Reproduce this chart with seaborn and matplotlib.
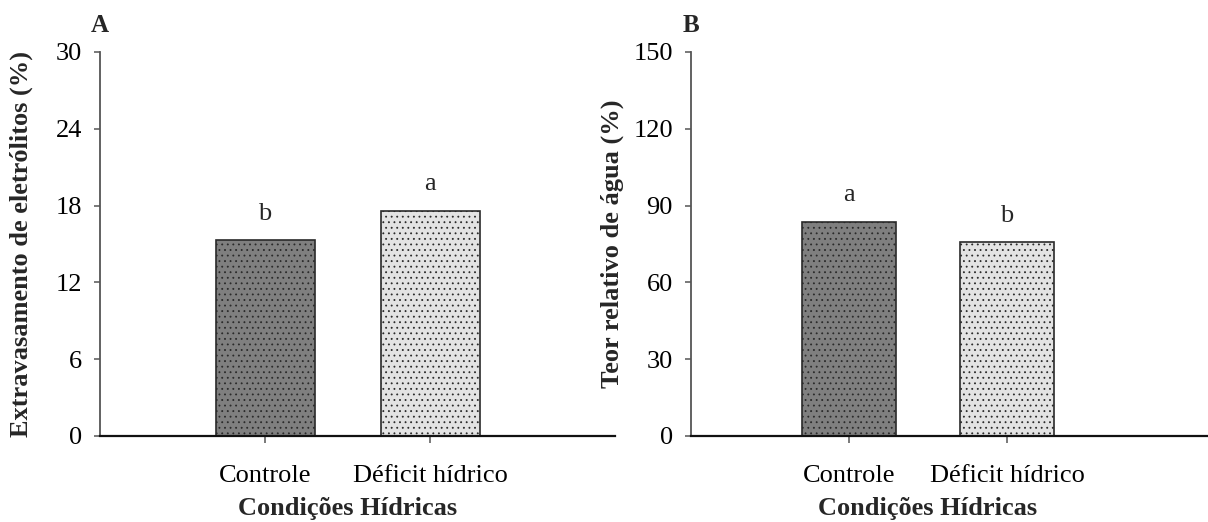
import matplotlib
matplotlib.use("Agg")
import matplotlib.pyplot as plt
import seaborn as sns
import pandas as pd

# ---- data ----
categories = ["Controle", "Déficit hídrico"]
el_values = [15.3, 17.6]          # Extravasamento de eletrólitos (%)
tra_values = [83.7, 75.8]         # Teor relativo de água (%)
el_letters = ["b", "a"]
tra_letters = ["a", "b"]
el_ticks = [0, 6, 12, 18, 24, 30]
tra_ticks = [0, 30, 60, 90, 120, 150]
bar_colors = ["#7f7f7f", "#e3e3e3"]

sns.set_theme(style="ticks")
plt.rcParams["font.family"] = ["Liberation Serif", "DejaVu Serif"]
plt.rcParams["hatch.linewidth"] = 0.6

fig = plt.figure(figsize=(12.08, 5.22), dpi=100)
W, H = 1208, 522
FS = 19

def panel(left_px, xlim, spacing, values, letters, ticks, ylabel, tag, ylab_px):
    x0, x1 = xlim
    width_px = (x1 - x0) * spacing
    ax = fig.add_axes([left_px / W, 1 - 436 / H, width_px / W, 384 / H])
    df = pd.DataFrame({"cond": categories, "val": values})
    sns.barplot(data=df, x="cond", y="val", hue="cond", palette=bar_colors,
                width=0.6, edgecolor="#2a2a2a", linewidth=1.2, ax=ax,
                legend=False, saturation=1)
    for p in ax.patches:
        p.set_hatch("...")
    ax.set_xlim(x0, x1)
    ax.set_ylim(ticks[0], ticks[-1])
    ax.set_yticks(ticks)
    ax.set_yticklabels([str(t) for t in ticks])
    for spine in ["top", "right"]:
        ax.spines[spine].set_visible(False)
    ax.spines["left"].set_color("#555555")
    ax.spines["left"].set_linewidth(1.3)
    ax.spines["bottom"].set_color("#111111")
    ax.spines["bottom"].set_linewidth(1.6)
    ax.tick_params(axis="y", length=4, width=1.1, color="#555555", pad=9,
                   labelsize=FS, labelcolor="black")
    ax.tick_params(axis="x", length=5, width=1.1, color="#555555", pad=16,
                   labelsize=FS, labelcolor="black")
    for i, (v, l) in enumerate(zip(values, letters)):
        ax.annotate(l, (i, v), xytext=(0, 11), textcoords="offset points",
                    ha="center", va="bottom", fontsize=FS)
    ax.set_xlabel("Condições Hídricas", fontsize=FS, fontweight="bold")
    ax.xaxis.set_label_coords((0.5 - x0) / (x1 - x0), -0.158)
    ax.set_ylabel(ylabel, fontsize=FS, fontweight="bold")
    ax.yaxis.set_label_coords((ylab_px - left_px) / width_px, 0.5)
    ax.text(0.0, 1.07, tag, transform=ax.transAxes, ha="center",
            va="center", fontsize=18, fontweight="bold")
    return ax

panel(100, (-1.0, 2.12), 165, el_values, el_letters, el_ticks,
      "Extravasamento de eletrólitos (%)", "A", 33)
panel(691, (-1.0, 2.32), 158, tra_values, tra_letters, tra_ticks,
      "Teor relativo de água (%)", "B", 624)

fig.savefig("out.png", dpi=100)
